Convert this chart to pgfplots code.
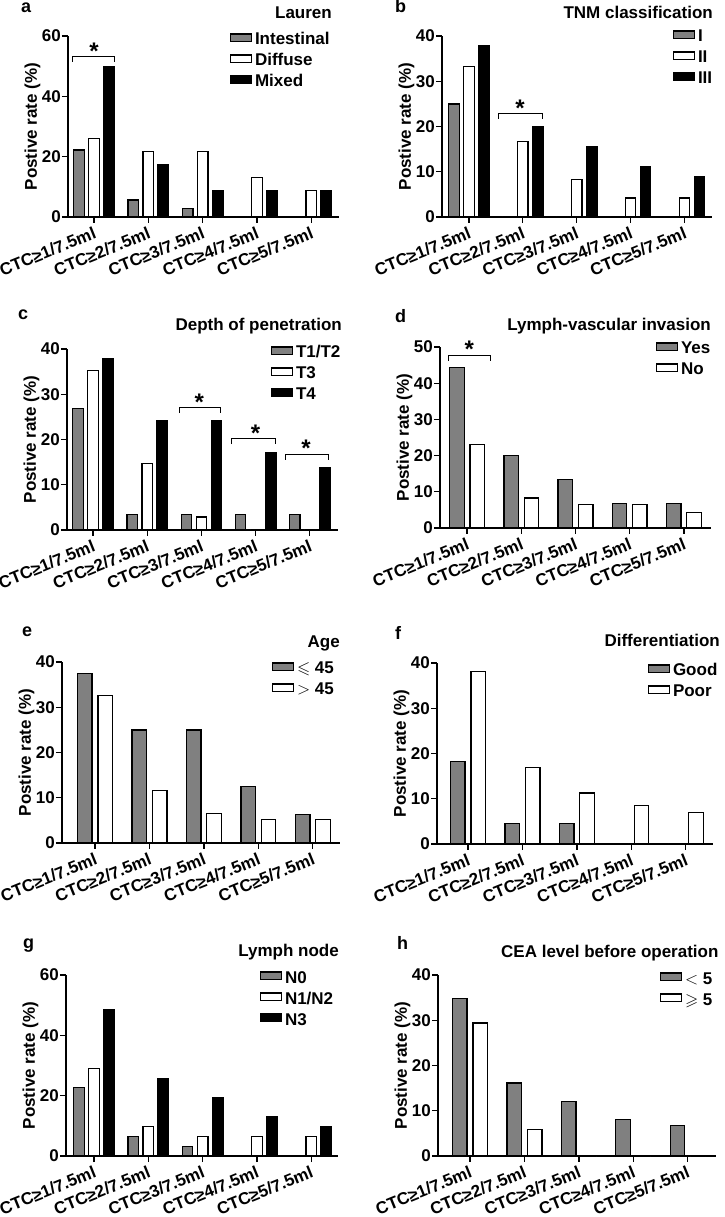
\documentclass[border=0pt]{standalone}
\usepackage{pgfplots}
\pgfplotsset{compat=1.18}
\usepackage{amssymb}
\usepackage{fontspec}
\setmainfont{Liberation Sans}
\newcommand{\fs}{\fontsize{17bp}{20bp}\selectfont\bfseries}
\newcommand{\fl}{\fontsize{18bp}{20bp}\selectfont\bfseries}
\newcommand{\fst}{\fontsize{24bp}{24bp}\selectfont\bfseries}
\pgfplotsset{
  panel/.style={
    scale only axis, height=181bp,
    axis x line*=bottom, axis y line*=left,
    axis line style={line width=1.3bp, black},
    tick align=outside, major tick length=6bp,
    every tick/.style={line width=1.3bp, black},
    xtick={0,1,2,3,4},
    xticklabels={CTC≥1/7.5ml,CTC≥2/7.5ml,CTC≥3/7.5ml,CTC≥4/7.5ml,CTC≥5/7.5ml},
    x tick label style={rotate=22, anchor=north east, inner sep=2.5bp, font=\fs},
    y tick label style={font=\fs, inner sep=1bp},
    /pgf/number format/assume math mode=true,
    ylabel={Postive rate (\%)}, ylabel style={font=\fs, yshift=-3bp},
    ymin=0, enlargelimits=false, clip=false,
    ybar,
    legend style={draw=none, fill=none, inner sep=0pt, outer sep=0pt,
      at={(0,1)}, anchor=north west, font=\fs, row sep=5bp, column sep=3bp,
      nodes={inner sep=0pt, text height=12bp, text depth=4bp}},
    legend cell align=left,
    legend image code/.code={\draw[##1] (0.65bp,-0.85bp) rectangle (21.35bp,6.85bp);},
  },
  three/.style={bar width=0.193},
  two/.style={bar width=0.267},
  gb/.style={fill=gray, draw=black, line width=1.3bp},
  wb/.style={fill=white, draw=black, line width=1.3bp},
  kb/.style={fill=black, draw=black, line width=1.3bp},
}
\tikzset{brkline/.style={line width=1bp, black},
  star/.style={font=\fst, inner sep=0pt, yshift=-5.3bp}}
\newcommand{\brk}[4]{% x1 x2 ylow yhigh
  \draw[brkline] (axis cs:#1,#3) |- (axis cs:#2,#4) -- (axis cs:#2,#3);}
\begin{document}
\begin{tikzpicture}
\useasboundingbox (0,0) rectangle (725bp,1217bp);
% panel letters and titles
\node[anchor=base west, font=\fl, inner sep=0pt] at (21bp,1204bp) {a};
\node[anchor=base west, font=\fl, inner sep=0pt] at (395bp,1204bp) {b};
\node[anchor=base west, font=\fl, inner sep=0pt] at (18bp,897bp) {c};
\node[anchor=base west, font=\fl, inner sep=0pt] at (395bp,894bp) {d};
\node[anchor=base west, font=\fl, inner sep=0pt] at (22bp,580bp) {e};
\node[anchor=base west, font=\fl, inner sep=0pt] at (395bp,577bp) {f};
\node[anchor=base west, font=\fl, inner sep=0pt] at (23bp,268bp) {g};
\node[anchor=base west, font=\fl, inner sep=0pt] at (397bp,267bp) {h};
\node[anchor=base east, font=\fs, inner sep=0pt] at (332bp,1198bp) {Lauren};
\node[anchor=base east, font=\fs, inner sep=0pt] at (713bp,1198bp) {TNM classification};
\node[anchor=base east, font=\fs, inner sep=0pt] at (342bp,886bp) {Depth of penetration};
\node[anchor=base east, font=\fs, inner sep=0pt] at (711bp,886bp) {Lymph-vascular invasion};
\node[anchor=base east, font=\fs, inner sep=0pt] at (340bp,569bp) {Age};
\node[anchor=base east, font=\fs, inner sep=0pt] at (720bp,570bp) {Differentiation};
\node[anchor=base east, font=\fs, inner sep=0pt] at (339bp,260bp) {Lymph node};
\node[anchor=base west, font=\fs, inner sep=0pt] at (501bp,259bp) {CEA level before operation};

% ---- a ----
\begin{axis}[panel, three, at={(68bp,1000bp)}, anchor=south west, width=271bp,
  xmin=-0.479, xmax=4.51, ymax=60, ytick={0,20,40,60},
  legend style={xshift=162bp, yshift=3bp}]
\addplot[gb, bar shift=-0.277] coordinates {(0,22.2) (1,5.6) (2,2.8) (3,0) (4,0)};
\addplot[wb, bar shift=0] coordinates {(0,26.1) (1,21.7) (2,21.7) (3,13.0) (4,8.7)};
\addplot[kb, bar shift=0.277] coordinates {(0,50.0) (1,17.4) (2,8.7) (3,8.7) (4,8.7)};
\legend{Intestinal,Diffuse,Mixed}
\brk{-0.40}{0.37}{51.4}{53.2}
\node[star] at (axis cs:0,56.7) {*};
\end{axis}

% ---- b ----
\begin{axis}[panel, three, at={(442bp,1000bp)}, anchor=south west, width=270bp,
  xmin=-0.50, xmax=4.51, ymax=40, ytick={0,10,20,30,40},
  legend style={xshift=231bp, yshift=6bp}]
\addplot[gb, bar shift=-0.277] coordinates {(0,25.0) (1,0) (2,0) (3,0) (4,0)};
\addplot[wb, bar shift=0] coordinates {(0,33.3) (1,16.7) (2,8.3) (3,4.2) (4,4.2)};
\addplot[kb, bar shift=0.277] coordinates {(0,37.8) (1,20.0) (2,15.6) (3,11.1) (4,8.9)};
\legend{I,II,III}
\brk{0.54}{1.36}{21.7}{22.9}
\node[star] at (axis cs:0.95,25.2) {*};
\end{axis}

% ---- c ----
\begin{axis}[panel, three, at={(67bp,687bp)}, anchor=south west, width=271bp,
  xmin=-0.48, xmax=4.52, ymax=40, ytick={0,10,20,30,40},
  legend style={xshift=204bp, yshift=3bp}]
\addplot[gb, bar shift=-0.277] coordinates {(0,26.8) (1,3.4) (2,3.4) (3,3.4) (4,3.4)};
\addplot[wb, bar shift=0] coordinates {(0,35.3) (1,14.7) (2,2.9) (3,0) (4,0)};
\addplot[kb, bar shift=0.277] coordinates {(0,37.9) (1,24.1) (2,24.1) (3,17.2) (4,13.8)};
\legend{T1/T2,T3,T4}
\brk{1.59}{2.36}{25.8}{27.1}
\node[star] at (axis cs:1.96,29.5) {*};
\brk{2.56}{3.36}{19.0}{20.3}
\node[star] at (axis cs:3.0,22.5) {*};
\brk{3.55}{4.34}{15.5}{16.7}
\node[star] at (axis cs:3.93,19.2) {*};
\end{axis}

% ---- d ----
\begin{axis}[panel, two, at={(440bp,689bp)}, anchor=south west, width=271bp,
  xmin=-0.50, xmax=4.50, ymax=50, ytick={0,10,20,30,40,50},
  legend style={xshift=216bp, yshift=5bp}]
\addplot[gb, bar shift=-0.187] coordinates {(0,44.4) (1,20.0) (2,13.3) (3,6.7) (4,6.7)};
\addplot[wb, bar shift=0.187] coordinates {(0,23.0) (1,8.3) (2,6.4) (3,6.4) (4,4.3)};
\legend{Yes,No}
\brk{-0.35}{0.43}{46.2}{47.7}
\node[star] at (axis cs:0.04,50.9) {*};
\end{axis}

% ---- e ----
\begin{axis}[panel, two, at={(62bp,374bp)}, anchor=south west, width=278bp,
  xmin=-0.607, xmax=4.50, ymax=40, ytick={0,10,20,30,40},
  legend style={xshift=210bp, yshift=0bp}]
\addplot[gb, bar shift=-0.187] coordinates {(0,37.5) (1,25.0) (2,25.0) (3,12.5) (4,6.3)};
\addplot[wb, bar shift=0.187] coordinates {(0,32.6) (1,11.6) (2,6.5) (3,5.2) (4,5.2)};
\addlegendentry{$\leqslant$ 45}
\addlegendentry{$>$ 45}
\end{axis}

% ---- f ----
\begin{axis}[panel, two, at={(437bp,373bp)}, anchor=south west, width=276bp,
  xmin=-0.57, xmax=4.50, ymax=40, ytick={0,10,20,30,40},
  legend style={xshift=211bp, yshift=-1bp}]
\addplot[gb, bar shift=-0.187] coordinates {(0,18.2) (1,4.5) (2,4.5) (3,0) (4,0)};
\addplot[wb, bar shift=0.187] coordinates {(0,38.1) (1,16.9) (2,11.3) (3,8.5) (4,7.0)};
\legend{Good,Poor}
\end{axis}

% ---- g ----
\begin{axis}[panel, three, at={(66bp,61bp)}, anchor=south west, width=272bp,
  xmin=-0.516, xmax=4.493, ymax=60, ytick={0,20,40,60},
  legend style={xshift=194bp, yshift=4bp}]
\addplot[gb, bar shift=-0.277] coordinates {(0,22.6) (1,6.5) (2,3.2) (3,0) (4,0)};
\addplot[wb, bar shift=0] coordinates {(0,29.0) (1,9.7) (2,6.5) (3,6.5) (4,6.5)};
\addplot[kb, bar shift=0.277] coordinates {(0,48.4) (1,25.8) (2,19.4) (3,12.9) (4,9.7)};
\legend{N0,N1/N2,N3}
\end{axis}

% ---- h ----
\begin{axis}[panel, two, at={(438bp,61bp)}, anchor=south west, width=278bp,
  xmin=-0.588, xmax=4.52, ymax=40, ytick={0,10,20,30,40},
  legend style={xshift=222bp, yshift=3bp}]
\addplot[gb, bar shift=-0.187] coordinates {(0,34.8) (1,16.1) (2,12.0) (3,8.0) (4,6.7)};
\addplot[wb, bar shift=0.187] coordinates {(0,29.4) (1,5.9) (2,0) (3,0) (4,0)};
\addlegendentry{$<$ 5}
\addlegendentry{$\geqslant$ 5}
\end{axis}
\end{tikzpicture}
\end{document}
